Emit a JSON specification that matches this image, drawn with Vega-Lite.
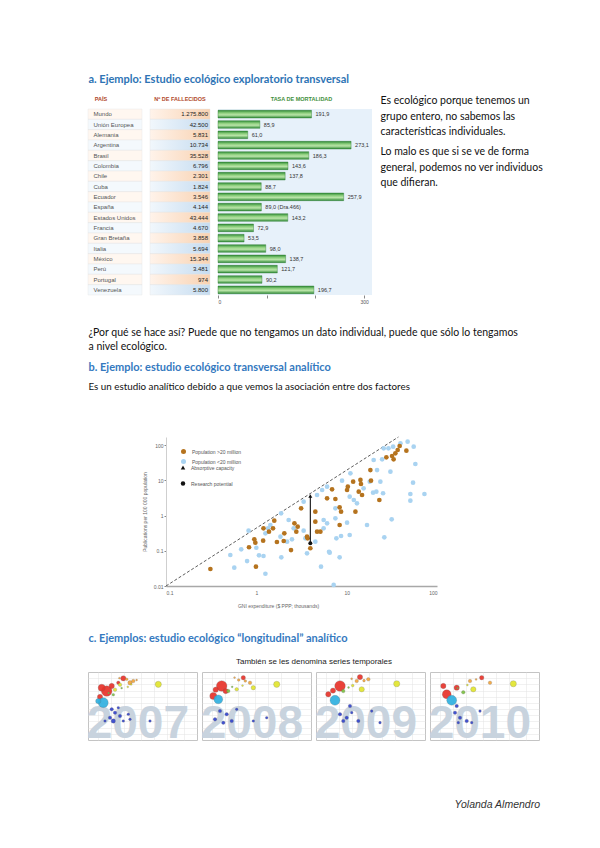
{
"$schema": "https://vega.github.io/schema/vega-lite/v6.json",
"background": "white",
"padding": {"left": 86, "top": 0, "right": 0, "bottom": 0},
"spacing": 0,
"resolve": {"scale": {"color": "independent", "shape": "independent", "size": "independent"}, "legend": {"color": "independent", "shape": "independent", "size": "independent"}},
"config": {
  "view": {"stroke": null},
  "font": "Lato",
  "locale": {"number": {"decimal": ",", "thousands": ".", "grouping": [3], "currency": ["", " €"]}},
  "axis": {"labelFont": "Liberation Sans", "titleFont": "Liberation Sans"},
  "legend": {"labelFont": "Liberation Sans"},
  "text": {"baseline": "top", "align": "left"}
},
"datasets": {
  "mortalidad": [
    {"pais": "Mundo", "fallecidos": 1275800, "tasa": 191.9},
    {"pais": "Unión Europea", "fallecidos": 42500, "tasa": 85.9},
    {"pais": "Alemania", "fallecidos": 5831, "tasa": 61.0},
    {"pais": "Argentina", "fallecidos": 10734, "tasa": 273.1},
    {"pais": "Brasil", "fallecidos": 35528, "tasa": 186.3},
    {"pais": "Colombia", "fallecidos": 6796, "tasa": 143.6},
    {"pais": "Chile", "fallecidos": 2301, "tasa": 137.8},
    {"pais": "Cuba", "fallecidos": 1824, "tasa": 88.7},
    {"pais": "Ecuador", "fallecidos": 3546, "tasa": 257.9},
    {"pais": "España", "fallecidos": 4144, "tasa": 89.0, "nota": "(Dra.466)"},
    {"pais": "Estados Unidos", "fallecidos": 43444, "tasa": 143.2},
    {"pais": "Francia", "fallecidos": 4670, "tasa": 72.9},
    {"pais": "Gran Bretaña", "fallecidos": 3858, "tasa": 53.5},
    {"pais": "Italia", "fallecidos": 5694, "tasa": 98.0},
    {"pais": "México", "fallecidos": 15344, "tasa": 138.7},
    {"pais": "Perú", "fallecidos": 3481, "tasa": 121.7},
    {"pais": "Portugal", "fallecidos": 974, "tasa": 90.2},
    {"pais": "Venezuela", "fallecidos": 5800, "tasa": 196.7}
  ],
  "ecologico": [
    {"gni": 0.57, "pub": 0.0331, "grupo": "Population <20 million"},
    {"gni": 1.26, "pub": 0.0223, "grupo": "Population <20 million"},
    {"gni": 0.515, "pub": 0.076, "grupo": "Population <20 million"},
    {"gni": 0.79, "pub": 0.051, "grupo": "Population <20 million"},
    {"gni": 0.68, "pub": 0.11, "grupo": "Population <20 million"},
    {"gni": 0.82, "pub": 0.372, "grupo": "Population <20 million"},
    {"gni": 1.0, "pub": 0.122, "grupo": "Population <20 million"},
    {"gni": 1.07, "pub": 0.0745, "grupo": "Population <20 million"},
    {"gni": 1.2, "pub": 0.0711, "grupo": "Population <20 million"},
    {"gni": 1.35, "pub": 0.436, "grupo": "Population <20 million"},
    {"gni": 1.26, "pub": 0.314, "grupo": "Population <20 million"},
    {"gni": 1.43, "pub": 0.541, "grupo": "Population <20 million"},
    {"gni": 1.88, "pub": 1.16, "grupo": "Population <20 million"},
    {"gni": 1.85, "pub": 0.252, "grupo": "Population <20 million"},
    {"gni": 2.28, "pub": 0.75, "grupo": "Population <20 million"},
    {"gni": 2.48, "pub": 0.212, "grupo": "Population <20 million"},
    {"gni": 2.59, "pub": 0.436, "grupo": "Population <20 million"},
    {"gni": 2.19, "pub": 0.182, "grupo": "Population <20 million"},
    {"gni": 1.89, "pub": 0.0654, "grupo": "Population <20 million"},
    {"gni": 3.34, "pub": 0.372, "grupo": "Population <20 million"},
    {"gni": 3.49, "pub": 0.226, "grupo": "Population <20 million"},
    {"gni": 3.34, "pub": 2.48, "grupo": "Population <20 million"},
    {"gni": 5.56, "pub": 0.436, "grupo": "Population <20 million"},
    {"gni": 5.2, "pub": 0.0353, "grupo": "Population <20 million"},
    {"gni": 6.38, "pub": 0.094, "grupo": "Population <20 million"},
    {"gni": 4.5, "pub": 0.182, "grupo": "Population <20 million"},
    {"gni": 3.64, "pub": 0.085, "grupo": "Population <20 million"},
    {"gni": 4.7, "pub": 3.85, "grupo": "Population <20 million"},
    {"gni": 5.35, "pub": 5.34, "grupo": "Population <20 million"},
    {"gni": 6.07, "pub": 6.62, "grupo": "Population <20 million"},
    {"gni": 5.56, "pub": 0.75, "grupo": "Population <20 million"},
    {"gni": 6.07, "pub": 0.604, "grupo": "Population <20 million"},
    {"gni": 7.5, "pub": 1.61, "grupo": "Population <20 million"},
    {"gni": 7.5, "pub": 0.838, "grupo": "Population <20 million"},
    {"gni": 7.69, "pub": 0.226, "grupo": "Population <20 million"},
    {"gni": 8.67, "pub": 0.263, "grupo": "Population <20 million"},
    {"gni": 6.49, "pub": 0.0883, "grupo": "Population <20 million"},
    {"gni": 8.36, "pub": 0.0654, "grupo": "Population <20 million"},
    {"gni": 7.18, "pub": 0.0107, "grupo": "Population <20 million"},
    {"gni": 8.89, "pub": 9.8, "grupo": "Population <20 million"},
    {"gni": 11, "pub": 15.9, "grupo": "Population <20 million"},
    {"gni": 10.8, "pub": 3.44, "grupo": "Population <20 million"},
    {"gni": 12, "pub": 2.77, "grupo": "Population <20 million"},
    {"gni": 13, "pub": 2.23, "grupo": "Population <20 million"},
    {"gni": 10.1, "pub": 0.628, "grupo": "Population <20 million"},
    {"gni": 10.8, "pub": 0.281, "grupo": "Population <20 million"},
    {"gni": 16.8, "pub": 0.541, "grupo": "Population <20 million"},
    {"gni": 15.4, "pub": 5.97, "grupo": "Population <20 million"},
    {"gni": 18, "pub": 9.18, "grupo": "Population <20 million"},
    {"gni": 19.9, "pub": 38, "grupo": "Population <20 million"},
    {"gni": 21.7, "pub": 19.7, "grupo": "Population <20 million"},
    {"gni": 23.6, "pub": 9.18, "grupo": "Population <20 million"},
    {"gni": 19.6, "pub": 4.48, "grupo": "Population <20 million"},
    {"gni": 21.3, "pub": 4.78, "grupo": "Population <20 million"},
    {"gni": 25.3, "pub": 4.31, "grupo": "Population <20 million"},
    {"gni": 30.5, "pub": 17.7, "grupo": "Population <20 million"},
    {"gni": 31.5, "pub": 0.785, "grupo": "Population <20 million"},
    {"gni": 26.1, "pub": 0.242, "grupo": "Population <20 million"},
    {"gni": 24.7, "pub": 39.7, "grupo": "Population <20 million"},
    {"gni": 25.7, "pub": 81.7, "grupo": "Population <20 million"},
    {"gni": 29, "pub": 81.7, "grupo": "Population <20 million"},
    {"gni": 32.7, "pub": 90.6, "grupo": "Population <20 million"},
    {"gni": 39.4, "pub": 113, "grupo": "Population <20 million"},
    {"gni": 47.3, "pub": 126, "grupo": "Population <20 million"},
    {"gni": 55.2, "pub": 90.6, "grupo": "Population <20 million"},
    {"gni": 57.6, "pub": 29.2, "grupo": "Population <20 million"},
    {"gni": 54.3, "pub": 8.61, "grupo": "Population <20 million"},
    {"gni": 50.7, "pub": 4.11, "grupo": "Population <20 million"},
    {"gni": 50.7, "pub": 2.65, "grupo": "Population <20 million"},
    {"gni": 72.6, "pub": 4.11, "grupo": "Population <20 million"},
    {"gni": 0.31, "pub": 0.0304, "grupo": "Population >20 million"},
    {"gni": 0.99, "pub": 0.0353, "grupo": "Population >20 million"},
    {"gni": 0.83, "pub": 0.126, "grupo": "Population >20 million"},
    {"gni": 0.95, "pub": 0.212, "grupo": "Population >20 million"},
    {"gni": 0.975, "pub": 0.17, "grupo": "Population >20 million"},
    {"gni": 1.19, "pub": 0.194, "grupo": "Population >20 million"},
    {"gni": 1.2, "pub": 0.436, "grupo": "Population >20 million"},
    {"gni": 1.38, "pub": 0.349, "grupo": "Population >20 million"},
    {"gni": 1.58, "pub": 0.716, "grupo": "Population >20 million"},
    {"gni": 1.53, "pub": 0.436, "grupo": "Population >20 million"},
    {"gni": 1.69, "pub": 0.178, "grupo": "Population >20 million"},
    {"gni": 2.04, "pub": 0.314, "grupo": "Population >20 million"},
    {"gni": 2.01, "pub": 0.19, "grupo": "Population >20 million"},
    {"gni": 2.64, "pub": 0.604, "grupo": "Population >20 million"},
    {"gni": 2.87, "pub": 0.484, "grupo": "Population >20 million"},
    {"gni": 2.77, "pub": 0.349, "grupo": "Population >20 million"},
    {"gni": 2.42, "pub": 0.105, "grupo": "Population >20 million"},
    {"gni": 3.64, "pub": 0.252, "grupo": "Population >20 million"},
    {"gni": 3.13, "pub": 1.61, "grupo": "Population >20 million"},
    {"gni": 4.5, "pub": 0.671, "grupo": "Population >20 million"},
    {"gni": 4.7, "pub": 0.349, "grupo": "Population >20 million"},
    {"gni": 3.96, "pub": 0.118, "grupo": "Population >20 million"},
    {"gni": 5.12, "pub": 0.349, "grupo": "Population >20 million"},
    {"gni": 3.7, "pub": 0.226, "grupo": "Population >20 million"},
    {"gni": 4.5, "pub": 1.29, "grupo": "Population >20 million"},
    {"gni": 6.07, "pub": 3.1, "grupo": "Population >20 million"},
    {"gni": 6.89, "pub": 5.58, "grupo": "Population >20 million"},
    {"gni": 7.5, "pub": 2.96, "grupo": "Population >20 million"},
    {"gni": 8.36, "pub": 1.72, "grupo": "Population >20 million"},
    {"gni": 8.67, "pub": 1.29, "grupo": "Population >20 million"},
    {"gni": 8.36, "pub": 0.541, "grupo": "Population >20 million"},
    {"gni": 10.3, "pub": 6.62, "grupo": "Population >20 million"},
    {"gni": 10.1, "pub": 5.34, "grupo": "Population >20 million"},
    {"gni": 11.8, "pub": 9.18, "grupo": "Population >20 million"},
    {"gni": 12.5, "pub": 1.29, "grupo": "Population >20 million"},
    {"gni": 13.6, "pub": 4.78, "grupo": "Population >20 million"},
    {"gni": 14.2, "pub": 10.3, "grupo": "Population >20 million"},
    {"gni": 14.4, "pub": 7.91, "grupo": "Population >20 million"},
    {"gni": 14.8, "pub": 3.85, "grupo": "Population >20 million"},
    {"gni": 18.3, "pub": 19.7, "grupo": "Population >20 million"},
    {"gni": 18.6, "pub": 9.8, "grupo": "Population >20 million"},
    {"gni": 23, "pub": 2.77, "grupo": "Population >20 million"},
    {"gni": 27.5, "pub": 45.3, "grupo": "Population >20 million"},
    {"gni": 31.8, "pub": 49.3, "grupo": "Population >20 million"},
    {"gni": 33.1, "pub": 39.7, "grupo": "Population >20 million"},
    {"gni": 34.6, "pub": 58.9, "grupo": "Population >20 million"},
    {"gni": 36.7, "pub": 73.1, "grupo": "Population >20 million"},
    {"gni": 38.6, "pub": 94.8, "grupo": "Population >20 million"},
    {"gni": 45.8, "pub": 69.8, "grupo": "Population >20 million"}
  ],
  "linea": [{"gni": 0.1, "pub": 0.01}, {"gni": 37.4, "pub": 171}],
  "flecha": [
    {"gni": 3.96, "pub": 3.6, "elemento": "Absorptive capacity"},
    {"gni": 3.96, "pub": 0.163, "elemento": "Research potential"}
  ],
  "burbujas": [
    {"anio": "2007", "region": "Asia oriental", "ingreso": 813, "vida": 69.6, "pob": 1320},
    {"anio": "2007", "region": "Asia oriental", "ingreso": 623, "vida": 72.3, "pob": 590},
    {"anio": "2007", "region": "Asia oriental", "ingreso": 569, "vida": 64.8, "pob": 330},
    {"anio": "2007", "region": "Asia oriental", "ingreso": 1061, "vida": 73.7, "pob": 330},
    {"anio": "2007", "region": "Asia oriental", "ingreso": 1969, "vida": 79.9, "pob": 330},
    {"anio": "2007", "region": "Asia oriental", "ingreso": 1509, "vida": 76.3, "pob": 147},
    {"anio": "2007", "region": "Europa", "ingreso": 2814, "vida": 76.3, "pob": 230},
    {"anio": "2007", "region": "Europa", "ingreso": 3355, "vida": 77.7, "pob": 147},
    {"anio": "2007", "region": "Europa", "ingreso": 2360, "vida": 79.1, "pob": 82},
    {"anio": "2007", "region": "Europa", "ingreso": 4000, "vida": 78.5, "pob": 40},
    {"anio": "2007", "region": "Europa", "ingreso": 1600, "vida": 80.0, "pob": 40},
    {"anio": "2007", "region": "América", "ingreso": 1651, "vida": 74.7, "pob": 147},
    {"anio": "2007", "region": "América", "ingreso": 1265, "vida": 70.7, "pob": 147},
    {"anio": "2007", "region": "América", "ingreso": 2500, "vida": 73.0, "pob": 40},
    {"anio": "2007", "region": "América", "ingreso": 3000, "vida": 75.0, "pob": 40},
    {"anio": "2007", "region": "Oriente Medio", "ingreso": 1156, "vida": 66.6, "pob": 82},
    {"anio": "2007", "region": "Oriente Medio", "ingreso": 1800, "vida": 72.0, "pob": 40},
    {"anio": "2007", "region": "Oriente Medio", "ingreso": 900, "vida": 68.0, "pob": 40},
    {"anio": "2007", "region": "Asia meridional", "ingreso": 678, "vida": 60.2, "pob": 1150},
    {"anio": "2007", "region": "Asia meridional", "ingreso": 519, "vida": 61.5, "pob": 330},
    {"anio": "2007", "region": "África", "ingreso": 1061, "vida": 54.8, "pob": 147},
    {"anio": "2007", "region": "África", "ingreso": 1265, "vida": 52.1, "pob": 147},
    {"anio": "2007", "region": "África", "ingreso": 969, "vida": 48.0, "pob": 147},
    {"anio": "2007", "region": "África", "ingreso": 1651, "vida": 49.4, "pob": 147},
    {"anio": "2007", "region": "África", "ingreso": 1156, "vida": 45.4, "pob": 230},
    {"anio": "2007", "region": "África", "ingreso": 1969, "vida": 45.4, "pob": 82},
    {"anio": "2007", "region": "África", "ingreso": 2571, "vida": 50.8, "pob": 82},
    {"anio": "2007", "region": "África", "ingreso": 1509, "vida": 56.1, "pob": 82},
    {"anio": "2007", "region": "África", "ingreso": 2814, "vida": 46.7, "pob": 82},
    {"anio": "2007", "region": "África", "ingreso": 8172, "vida": 45.4, "pob": 82},
    {"anio": "2007", "region": "África", "ingreso": 742, "vida": 45.4, "pob": 82},
    {"anio": "2007", "region": "América", "ingreso": 12720, "vida": 75.0, "pob": 450},
    {"anio": "2008", "region": "Asia oriental", "ingreso": 857, "vida": 73.7, "pob": 1320},
    {"anio": "2008", "region": "Asia oriental", "ingreso": 548, "vida": 65.6, "pob": 590},
    {"anio": "2008", "region": "Asia oriental", "ingreso": 623, "vida": 70.7, "pob": 330},
    {"anio": "2008", "region": "Asia oriental", "ingreso": 1061, "vida": 69.6, "pob": 330},
    {"anio": "2008", "region": "Asia oriental", "ingreso": 2711, "vida": 80.4, "pob": 230},
    {"anio": "2008", "region": "Europa", "ingreso": 3875, "vida": 76.3, "pob": 147},
    {"anio": "2008", "region": "Europa", "ingreso": 3016, "vida": 77.7, "pob": 82},
    {"anio": "2008", "region": "Europa", "ingreso": 2122, "vida": 78.5, "pob": 82},
    {"anio": "2008", "region": "Europa", "ingreso": 1700, "vida": 80.5, "pob": 40},
    {"anio": "2008", "region": "América", "ingreso": 4620, "vida": 72.3, "pob": 230},
    {"anio": "2008", "region": "América", "ingreso": 1907, "vida": 71.0, "pob": 147},
    {"anio": "2008", "region": "América", "ingreso": 2600, "vida": 74.0, "pob": 40},
    {"anio": "2008", "region": "Oriente Medio", "ingreso": 1219, "vida": 69.6, "pob": 147},
    {"anio": "2008", "region": "Oriente Medio", "ingreso": 1500, "vida": 73.0, "pob": 40},
    {"anio": "2008", "region": "Asia meridional", "ingreso": 715, "vida": 62.9, "pob": 920},
    {"anio": "2008", "region": "África", "ingreso": 783, "vida": 53.4, "pob": 147},
    {"anio": "2008", "region": "África", "ingreso": 1119, "vida": 50.8, "pob": 147},
    {"anio": "2008", "region": "África", "ingreso": 600, "vida": 46.7, "pob": 147},
    {"anio": "2008", "region": "África", "ingreso": 1461, "vida": 45.4, "pob": 147},
    {"anio": "2008", "region": "África", "ingreso": 1907, "vida": 54.8, "pob": 82},
    {"anio": "2008", "region": "África", "ingreso": 934, "vida": 44.0, "pob": 147},
    {"anio": "2008", "region": "África", "ingreso": 4620, "vida": 45.4, "pob": 82},
    {"anio": "2008", "region": "África", "ingreso": 9435, "vida": 48.0, "pob": 82},
    {"anio": "2008", "region": "América", "ingreso": 16080, "vida": 75.0, "pob": 450},
    {"anio": "2009", "region": "Asia oriental", "ingreso": 1078, "vida": 73.7, "pob": 1320},
    {"anio": "2009", "region": "Asia oriental", "ingreso": 578, "vida": 67.0, "pob": 330},
    {"anio": "2009", "region": "Asia oriental", "ingreso": 742, "vida": 70.0, "pob": 330},
    {"anio": "2009", "region": "Asia oriental", "ingreso": 3129, "vida": 80.9, "pob": 330},
    {"anio": "2009", "region": "Europa", "ingreso": 4872, "vida": 79.1, "pob": 147},
    {"anio": "2009", "region": "Europa", "ingreso": 2626, "vida": 77.7, "pob": 147},
    {"anio": "2009", "region": "Europa", "ingreso": 3875, "vida": 78.0, "pob": 82},
    {"anio": "2009", "region": "Europa", "ingreso": 2000, "vida": 79.5, "pob": 40},
    {"anio": "2009", "region": "América", "ingreso": 3428, "vida": 71.0, "pob": 330},
    {"anio": "2009", "region": "América", "ingreso": 2122, "vida": 74.0, "pob": 82},
    {"anio": "2009", "region": "Oriente Medio", "ingreso": 1285, "vida": 69.6, "pob": 147},
    {"anio": "2009", "region": "Oriente Medio", "ingreso": 1700, "vida": 72.5, "pob": 40},
    {"anio": "2009", "region": "Asia meridional", "ingreso": 826, "vida": 62.1, "pob": 1150},
    {"anio": "2009", "region": "África", "ingreso": 1837, "vida": 57.5, "pob": 147},
    {"anio": "2009", "region": "África", "ingreso": 1078, "vida": 50.8, "pob": 147},
    {"anio": "2009", "region": "África", "ingreso": 1541, "vida": 48.0, "pob": 147},
    {"anio": "2009", "region": "África", "ingreso": 2860, "vida": 45.4, "pob": 147},
    {"anio": "2009", "region": "África", "ingreso": 1285, "vida": 45.4, "pob": 147},
    {"anio": "2009", "region": "África", "ingreso": 5841, "vida": 53.4, "pob": 82},
    {"anio": "2009", "region": "África", "ingreso": 9090, "vida": 44.0, "pob": 82},
    {"anio": "2009", "region": "África", "ingreso": 2012, "vida": 52.1, "pob": 82},
    {"anio": "2009", "region": "América", "ingreso": 22140, "vida": 75.5, "pob": 450},
    {"anio": "2010", "region": "Asia oriental", "ingreso": 731, "vida": 67.0, "pob": 920},
    {"anio": "2010", "region": "Asia oriental", "ingreso": 610, "vida": 73.7, "pob": 330},
    {"anio": "2010", "region": "Asia oriental", "ingreso": 1245, "vida": 72.3, "pob": 330},
    {"anio": "2010", "region": "Asia oriental", "ingreso": 4720, "vida": 80.4, "pob": 230},
    {"anio": "2010", "region": "Europa", "ingreso": 2530, "vida": 77.7, "pob": 147},
    {"anio": "2010", "region": "Europa", "ingreso": 7347, "vida": 76.3, "pob": 147},
    {"anio": "2010", "region": "Europa", "ingreso": 3500, "vida": 79.0, "pob": 40},
    {"anio": "2010", "region": "América", "ingreso": 3016, "vida": 71.0, "pob": 330},
    {"anio": "2010", "region": "América", "ingreso": 2200, "vida": 74.5, "pob": 40},
    {"anio": "2010", "region": "Oriente Medio", "ingreso": 1770, "vida": 68.6, "pob": 147},
    {"anio": "2010", "region": "Oriente Medio", "ingreso": 1300, "vida": 72.0, "pob": 40},
    {"anio": "2010", "region": "Asia meridional", "ingreso": 954, "vida": 62.1, "pob": 1150},
    {"anio": "2010", "region": "África", "ingreso": 1245, "vida": 57.5, "pob": 147},
    {"anio": "2010", "region": "África", "ingreso": 1137, "vida": 52.1, "pob": 147},
    {"anio": "2010", "region": "África", "ingreso": 1485, "vida": 48.0, "pob": 147},
    {"anio": "2010", "region": "África", "ingreso": 2122, "vida": 45.4, "pob": 147},
    {"anio": "2010", "region": "África", "ingreso": 2770, "vida": 44.0, "pob": 82},
    {"anio": "2010", "region": "África", "ingreso": 1356, "vida": 44.0, "pob": 82},
    {"anio": "2010", "region": "África", "ingreso": 4310, "vida": 53.4, "pob": 82},
    {"anio": "2010", "region": "América", "ingreso": 25440, "vida": 75.5, "pob": 450}
  ]
},
"vconcat": [
  {"width": 1, "height": 73, "data": {"values": []}, "mark": "point"},
  {"width": 1, "height": 2,
   "data": {"values": [{"t": "a. Ejemplo: Estudio ecológico exploratorio transversal"}]},
   "mark": {"type": "text", "fontSize": 11, "fontWeight": "bold", "color": "#2E74B5"},
   "encoding": {"text": {"field": "t"}}},
  {"width": 1, "height": 5, "data": {"values": []}, "mark": "point"},
  {"hconcat": [
    {"vconcat": [
      {"hconcat": [
        {"width": 26, "height": 18, "data": {"values": [{"t": "PAÍS"}]},
         "mark": {"type": "text", "align": "center", "baseline": "middle", "font": "Liberation Sans", "fontSize": 5.5, "fontWeight": "bold", "color": "#b0472a"},
         "encoding": {"text": {"field": "t"}}},
        {"width": 116, "height": 18, "data": {"values": [{"t": "Nº DE FALLECIDOS"}]},
         "mark": {"type": "text", "align": "center", "baseline": "middle", "font": "Liberation Sans", "fontSize": 5.5, "fontWeight": "bold", "color": "#b0472a"},
         "encoding": {"text": {"field": "t"}}},
        {"width": 111, "height": 18, "data": {"values": [{"t": "TASA DE MORTALIDAD"}]},
         "mark": {"type": "text", "align": "center", "baseline": "middle", "font": "Liberation Sans", "fontSize": 5.5, "fontWeight": "bold", "color": "#3f8f3a"},
         "encoding": {"text": {"field": "t"}}}
      ], "spacing": 8, "bounds": "flush"},
      {"hconcat": [
        {"width": 54, "height": 186,
         "data": {"name": "mortalidad"},
         "transform": [{"window": [{"op": "row_number", "as": "n"}]}],
         "mark": {"type": "rect", "stroke": "#e2e2e2", "strokeWidth": 0.4},
         "encoding": {
           "y": {"field": "pais", "type": "nominal", "sort": null, "scale": {"paddingInner": 0, "paddingOuter": 0, "round": false},
                 "axis": {"orient": "left", "domain": false, "ticks": false, "tickSize": 0, "labelAlign": "left", "labelPadding": -5, "labelFontSize": 6, "labelColor": "#555", "labelFont": "Liberation Sans", "title": null, "zindex": 1, "labelLimit": 60}},
           "fill": {"condition": {"test": "datum.n % 2 == 1", "value": "#fff7f0"}, "value": "#f4f9fd"}}},
        {"width": 60, "height": 186,
         "layer": [
           {"data": {"name": "mortalidad"},
            "transform": [{"window": [{"op": "row_number", "as": "n"}]}],
            "mark": {"type": "rect", "stroke": "#e2e2e2", "strokeWidth": 0.4},
            "encoding": {
              "y": {"field": "pais", "type": "nominal", "sort": null, "axis": null, "scale": {"paddingInner": 0, "paddingOuter": 0, "round": false}},
              "fill": {"condition": {"test": "datum.n % 2 == 1", "value": {"gradient": "linear", "x1": 0, "y1": 0, "x2": 1, "y2": 0, "stops": [{"offset": 0, "color": "#fff3ea"}, {"offset": 1, "color": "#f8d2b2"}]}},
                       "value": {"gradient": "linear", "x1": 0, "y1": 0, "x2": 1, "y2": 0, "stops": [{"offset": 0, "color": "#f1f7fc"}, {"offset": 1, "color": "#c6dcf0"}]}}}},
           {"data": {"name": "mortalidad"},
            "mark": {"type": "text", "align": "right", "baseline": "middle", "x": "width", "dx": -2, "font": "Liberation Sans", "fontSize": 6, "color": "#222"},
            "encoding": {"y": {"field": "pais", "type": "nominal", "sort": null, "axis": null}, "text": {"field": "fallecidos", "type": "quantitative", "format": ",d"}}}
         ]},
        {"width": 154, "height": 186, "view": {"fill": "#e7f1fa"},
         "layer": [
           {"data": {"name": "mortalidad"},
            "mark": {"type": "bar", "height": {"band": 0.74}, "stroke": "#2b7a31", "strokeWidth": 0.4,
                     "fill": {"gradient": "linear", "x1": 0, "y1": 0, "x2": 0, "y2": 1, "stops": [{"offset": 0, "color": "#2f8a36"}, {"offset": 0.35, "color": "#8fd07f"}, {"offset": 0.6, "color": "#b9e4a8"}, {"offset": 1, "color": "#2f8a36"}]}},
            "encoding": {
              "y": {"field": "pais", "type": "nominal", "sort": null, "axis": null, "scale": {"paddingInner": 0, "paddingOuter": 0, "round": false}},
              "x": {"field": "tasa", "type": "quantitative", "scale": {"domain": [0, 316], "nice": false},
                    "axis": {"orient": "bottom", "values": [0, 50, 100, 150, 200, 250, 300], "labelExpr": "datum.value % 150 == 0 ? datum.label : ''", "domain": false, "grid": false, "tickSize": 3, "tickColor": "#888", "labelFontSize": 5, "labelColor": "#555", "labelPadding": 1, "title": null}}}},
           {"data": {"name": "mortalidad"},
            "transform": [{"calculate": "format(datum.tasa, '.1f') + (datum.nota ? ' ' + datum.nota : '')", "as": "etiqueta"}],
            "mark": {"type": "text", "align": "left", "baseline": "middle", "dx": 4, "font": "Liberation Sans", "fontSize": 5.5, "color": "#333"},
            "encoding": {"y": {"field": "pais", "type": "nominal", "sort": null, "axis": null}, "x": {"field": "tasa", "type": "quantitative"}, "text": {"field": "etiqueta"}}}
         ]}
      ], "spacing": 8, "bounds": "flush"}
    ], "spacing": 0},
    {"vconcat": [
      {"width": 1, "height": 12,
       "data": {"values": [{"t": "\u00a0\u00a0Es ecológico porque tenemos un\ngrupo entero, no sabemos las\ncaracterísticas individuales."}]},
       "mark": {"type": "text", "fontSize": 10.5, "lineBreak": "\n", "lineHeight": 15.5, "color": "#111"},
       "encoding": {"text": {"field": "t"}}},
      {"width": 1, "height": 18,
       "data": {"values": [{"t": "Lo malo es que si se ve de forma\ngeneral, podemos no ver individuos\nque difieran."}]},
       "mark": {"type": "text", "fontSize": 10.5, "lineBreak": "\n", "lineHeight": 15.5, "color": "#111"},
       "encoding": {"text": {"field": "t"}}}
    ], "spacing": 0}
  ], "spacing": 8},
  {"width": 1, "height": 23, "data": {"values": []}, "mark": "point"},
  {"width": 1, "height": 2,
   "data": {"values": [{"t": "¿Por qué se hace así? Puede que no tengamos un dato individual, puede que sólo lo tengamos\na nivel ecológico."}]},
   "mark": {"type": "text", "fontSize": 10.5, "lineBreak": "\n", "lineHeight": 14.3, "color": "#111"},
   "encoding": {"text": {"field": "t"}}},
  {"width": 1, "height": 8, "data": {"values": []}, "mark": "point"},
  {"width": 1, "height": 2,
   "data": {"values": [{"t": "b. Ejemplo: estudio ecológico transversal analítico"}]},
   "mark": {"type": "text", "fontSize": 11, "fontWeight": "bold", "color": "#3479C0"},
   "encoding": {"text": {"field": "t"}}},
  {"width": 1, "height": 8, "data": {"values": []}, "mark": "point"},
  {"width": 1, "height": 2,
   "data": {"values": [{"t": "Es un estudio analítico debido a que vemos la asociación entre dos factores"}]},
   "mark": {"type": "text", "fontSize": 9.8, "color": "#111"},
   "encoding": {"text": {"field": "t"}}},
  {"width": 1, "height": 43, "data": {"values": []}, "mark": "point"},
  {"hconcat": [
    {"width": 78, "height": 195, "data": {"values": []}, "mark": "point"},
    {"width": 271, "height": 149,
     "layer": [
       {"data": {"name": "linea"},
        "mark": {"type": "line", "strokeDash": [3, 2], "color": "#333", "strokeWidth": 0.8},
        "encoding": {
          "x": {"field": "gni", "type": "quantitative", "scale": {"type": "log", "domain": [0.1, 100], "nice": false},
                "axis": {"values": [0.1, 1, 10, 100], "labelExpr": "toString(datum.value)", "ticks": false, "domainColor": "#a8a8a8", "domainWidth": 1.5, "labelFontSize": 5, "labelColor": "#666", "labelPadding": 4, "grid": false, "title": "GNI expenditure ($ PPP; thousands)", "titleFontSize": 5, "titleFontWeight": "normal", "titleColor": "#666", "titlePadding": 8, "titleX": 112}},
          "y": {"field": "pub", "type": "quantitative", "scale": {"type": "log", "domain": [0.01, 171], "nice": false},
                "axis": {"values": [0.01, 0.1, 1, 10, 100], "labelExpr": "toString(datum.value)", "tickSize": 2, "tickColor": "#888", "domainColor": "#cfcfcf", "labelFontSize": 5, "labelColor": "#666", "labelPadding": 1, "grid": false, "title": "Publications per 100 000 population", "titleFontSize": 5, "titleFontWeight": "normal", "titleColor": "#666", "titlePadding": 6}}}},
       {"data": {"name": "ecologico"},
        "mark": {"type": "circle", "size": 22, "opacity": 1},
        "encoding": {
          "x": {"field": "gni", "type": "quantitative"},
          "y": {"field": "pub", "type": "quantitative"},
          "color": {"field": "grupo", "type": "nominal", "scale": {"domain": ["Population >20 million", "Population <20 million"], "range": ["#b5731e", "#a9d3f1"]},
                    "legend": {"orient": "none", "legendX": 14, "legendY": 11, "title": null, "labelFontSize": 5, "labelColor": "#555", "symbolSize": 25, "symbolType": "circle", "rowPadding": 3, "labelOffset": 5, "padding": 0}}}},
       {"data": {"name": "flecha"},
        "mark": {"type": "line", "color": "#111", "strokeWidth": 1.1},
        "encoding": {"x": {"field": "gni", "type": "quantitative"}, "y": {"field": "pub", "type": "quantitative"}}},
       {"data": {"name": "flecha"},
        "mark": {"type": "point", "filled": true, "color": "#111", "opacity": 1, "size": 16},
        "encoding": {
          "x": {"field": "gni", "type": "quantitative"},
          "y": {"field": "pub", "type": "quantitative"},
          "shape": {"field": "elemento", "type": "nominal", "scale": {"domain": ["Absorptive capacity", "Research potential"], "range": ["triangle-up", "circle"]},
                    "legend": {"orient": "none", "legendX": 14, "legendY": 27.5, "title": null, "labelFontSize": 5, "labelColor": "#555", "symbolSize": 20, "rowPadding": 5, "labelOffset": 5, "padding": 0, "symbolFillColor": "#111", "symbolStrokeColor": "#111"}}}}
     ]}
  ], "spacing": 0, "bounds": "flush",
   "resolve": {"scale": {"color": "independent", "shape": "independent"}, "legend": {"color": "independent", "shape": "independent"}}},
  {"width": 1, "height": 2,
   "data": {"values": [{"t": "c. Ejemplos: estudio ecológico “longitudinal” analítico"}]},
   "mark": {"type": "text", "fontSize": 11, "fontWeight": "bold", "color": "#3479C0"},
   "encoding": {"text": {"field": "t"}}},
  {"width": 1, "height": 13, "data": {"values": []}, "mark": "point"},
  {"width": 452, "height": 2,
   "data": {"values": [{"t": "También se les denomina series temporales"}]},
   "mark": {"type": "text", "align": "center", "font": "Liberation Sans", "fontSize": 8, "color": "#222"},
   "encoding": {"text": {"field": "t"}}},
  {"width": 1, "height": 5, "data": {"values": []}, "mark": "point"},
  {"data": {"name": "burbujas"},
   "facet": {"column": {"field": "anio", "type": "nominal", "header": null}},
   "spacing": 5,
   "bounds": "flush",
   "spec": {
     "width": 109, "height": 68,
     "view": {"stroke": "#c4c4c4", "fill": "#ffffff"},
     "layer": [
       {"transform": [{"aggregate": [{"op": "count", "as": "n"}], "groupby": ["anio"]}],
        "mark": {"type": "text", "x": "width", "y": "height", "align": "right", "baseline": "alphabetic", "dx": -8, "dy": -2, "font": "Liberation Sans", "fontWeight": "bold", "fontSize": 46, "color": "#c8d3de"},
        "encoding": {"text": {"field": "anio", "type": "nominal"}}},
       {"mark": {"type": "circle", "opacity": 0.92, "stroke": "#666", "strokeWidth": 0.25, "clip": true},
        "encoding": {
          "x": {"field": "ingreso", "type": "quantitative", "scale": {"type": "log", "domain": [300, 100000], "nice": false},
                "axis": {"grid": true, "gridColor": "#e2e2e2", "gridWidth": 0.5, "labels": false, "ticks": false, "domain": false, "title": null, "values": [500, 1000, 2000, 5000, 10000, 20000, 50000]}},
          "y": {"field": "vida", "type": "quantitative", "scale": {"domain": [30, 85], "nice": false, "zero": false},
                "axis": {"grid": true, "gridColor": "#e2e2e2", "gridWidth": 0.5, "labels": false, "ticks": false, "domain": false, "title": null, "values": [35, 40, 45, 50, 55, 60, 65, 70, 75, 80]}},
          "size": {"field": "pob", "type": "quantitative", "scale": {"domain": [0, 1400], "range": [0, 120]}, "legend": null},
          "color": {"field": "region", "type": "nominal", "scale": {"domain": ["Asia oriental", "Asia meridional", "Oriente Medio", "Europa", "América", "África"], "range": ["#e8332a", "#2fb0e0", "#7cc242", "#f4a43a", "#e2e62e", "#3344cc"]}, "legend": null}}}
     ]
   }
  },
  {"width": 1, "height": 51, "data": {"values": []}, "mark": "point"},
  {"width": 452, "height": 2,
   "data": {"values": [{"t": "Yolanda Almendro"}]},
   "mark": {"type": "text", "x": "width", "align": "right", "font": "Liberation Sans", "fontStyle": "italic", "fontSize": 10.5, "color": "#333"},
   "encoding": {"text": {"field": "t"}}}
]
}
